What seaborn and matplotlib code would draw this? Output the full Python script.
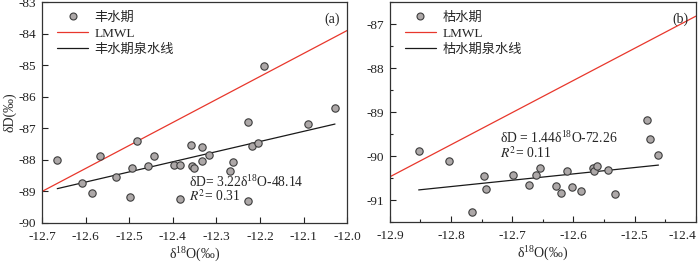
import numpy as np
import pandas as pd
import matplotlib
matplotlib.use("Agg")
import matplotlib.pyplot as plt
import seaborn as sns
from matplotlib.ticker import MultipleLocator
from matplotlib.lines import Line2D

# ---------------- data ----------------
wet_o18 = [-12.665, -12.609, -12.586, -12.568, -12.530, -12.498, -12.494, -12.482,
           -12.458, -12.443, -12.398, -12.384, -12.384, -12.358, -12.357, -12.351,
           -12.334, -12.334, -12.318, -12.269, -12.263, -12.228, -12.219, -12.205,
           -12.190, -12.227, -12.089, -12.028]
wet_d = [-88.00, -88.74, -89.05, -87.87, -88.54, -89.18, -88.28, -87.41,
         -88.21, -87.88, -88.17, -88.17, -89.25, -87.55, -88.20, -88.26,
         -87.61, -88.04, -87.85, -88.35, -88.06, -89.31, -87.56, -87.47,
         -85.04, -86.80, -86.88, -86.35]

dry_o18 = [-12.853, -12.804, -12.747, -12.743, -12.766, -12.698, -12.673, -12.662,
           -12.654, -12.629, -12.620, -12.611, -12.603, -12.588, -12.568, -12.567,
           -12.561, -12.543, -12.532, -12.475, -12.461, -12.479]
dry_d = [-89.89, -90.12, -90.46, -90.74, -91.28, -90.43, -90.65, -90.44,
         -90.28, -90.69, -90.84, -90.34, -90.70, -90.80, -90.27, -90.34,
         -90.23, -90.32, -90.87, -89.60, -89.98, -89.17]

lmwl_coef = [7.3, 3.7]          # slope, intercept
wet_fit = [3.22, -48.14]
dry_fit = [1.44, -72.26]

wet_labels = ["丰水期", "LMWL", "丰水期泉水线"]
dry_labels = ["枯水期", "LMWL", "枯水期泉水线"]

# ---------------- style ----------------
sns.set_style("white")
plt.rcParams["font.family"] = ["Liberation Serif", "Noto Sans CJK SC"]
plt.rcParams["mathtext.fontset"] = "stix"
plt.rcParams["axes.unicode_minus"] = False
FS = 9.5
MK_FACE = "#ada8a8"
MK_EDGE = "#3c3c3c"
RED = "#e8372c"

fig = plt.figure(figsize=(7.0, 2.66), dpi=100)
ax1 = fig.add_axes([0.060, 0.163, 0.436, 0.829])
ax2 = fig.add_axes([0.557, 0.165, 0.437, 0.827])


def panel(ax, xo, yd, fit, labels, xlim, ylim, tag, eq_pos, r2_pos, eq_txt, r2_txt, minor):
    df = pd.DataFrame({"o18": xo, "d": yd})
    sns.scatterplot(data=df, x="o18", y="d", ax=ax, s=28, color=MK_FACE,
                    edgecolor=MK_EDGE, linewidth=0.8, zorder=3, legend=False)
    xl = np.array(xlim)
    lm = pd.DataFrame({"o18": xl, "d": lmwl_coef[0] * xl + lmwl_coef[1]})
    sns.lineplot(data=lm, x="o18", y="d", ax=ax, color=RED, linewidth=0.9)
    xf = np.array([min(xo), max(xo)])
    fd = pd.DataFrame({"o18": xf, "d": fit[0] * xf + fit[1]})
    sns.lineplot(data=fd, x="o18", y="d", ax=ax, color="#1a1a1a", linewidth=0.9)
    ax.set_xlim(*xlim)
    ax.set_ylim(*ylim)
    ax.xaxis.set_major_locator(MultipleLocator(0.1))
    ax.yaxis.set_major_locator(MultipleLocator(1))
    if minor:
        ax.xaxis.set_minor_locator(MultipleLocator(0.05))
        ax.yaxis.set_minor_locator(MultipleLocator(0.5))
    ax.xaxis.set_major_formatter(matplotlib.ticker.FormatStrFormatter("%.1f"))
    ax.yaxis.set_major_formatter(matplotlib.ticker.FormatStrFormatter("%d"))
    ax.tick_params(axis="both", which="major", direction="in", length=4, width=0.8,
                   labelsize=FS, pad=4, bottom=True, left=True, colors="#222222")
    ax.tick_params(axis="x", which="major", pad=6)
    ax.tick_params(axis="both", which="minor", direction="in", length=2.5, width=0.8,
                   bottom=True, left=True, colors="#222222")
    for s in ax.spines.values():
        s.set_color("#333333")
        s.set_linewidth(0.9)
    ax.set_xlabel(r"$\mathregular{\delta^{18}O(‰)}$", fontsize=FS + 0.5, labelpad=2)
    ax.set_ylabel("")
    handles = [
        Line2D([], [], marker="o", linestyle="none", markersize=5,
               markerfacecolor=MK_FACE, markeredgecolor=MK_EDGE, markeredgewidth=0.8),
        Line2D([], [], color=RED, linewidth=0.9),
        Line2D([], [], color="#1a1a1a", linewidth=0.9),
    ]
    ax.legend(handles, labels, loc="upper left", frameon=False, fontsize=FS,
              handlelength=2.3, handletextpad=0.5, labelspacing=0.3,
              borderaxespad=0.3, bbox_to_anchor=(0.02, 1.0))
    ax.text(0.975, 0.955, tag, transform=ax.transAxes, ha="right", va="top", fontsize=FS + 0.5)
    ax.text(eq_pos[0], eq_pos[1], eq_txt, ha="left", va="center", fontsize=FS + 0.3)
    ax.text(r2_pos[0], r2_pos[1], r2_txt, ha="left", va="center", fontsize=FS + 0.3)


panel(ax1, wet_o18, wet_d, wet_fit, wet_labels, (-12.7, -12.0), (-90, -83), "(a)",
      (-12.362, -88.70), (-12.362, -89.16),
      r"δD= 3.22δ$\mathregular{^{18}}$O-48.14", r"$R^{2}$= 0.31", False)
panel(ax2, dry_o18, dry_d, dry_fit, dry_labels, (-12.9, -12.4), (-91.5, -86.5), "(b)",
      (-12.72, -89.60), (-12.72, -89.94),
      r"δD = 1.44δ$\mathregular{^{18}}$O-72.26", r"$R^{2}$= 0.11", True)

ax1.set_ylabel("δD(‰)", fontsize=FS + 0.5, labelpad=2)

fig.canvas.draw()
lbls = ax2.get_xticklabels()
for t in lbls:
    if t.get_text() == "-12.4":
        t.set_ha("right")

fig.savefig("out.png", dpi=100)
